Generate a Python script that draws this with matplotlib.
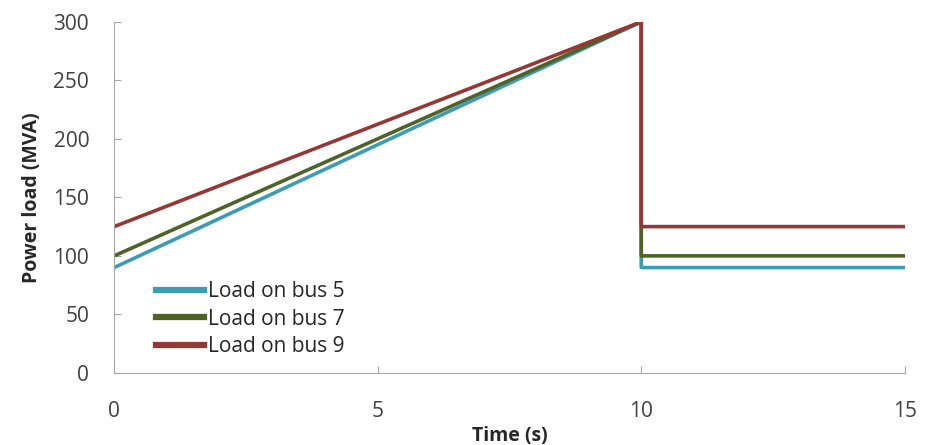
import matplotlib.pyplot as plt

time = [0, 10, 10, 15]
bus5 = [90, 300, 90, 90]
bus7 = [100, 300, 100, 100]
bus9 = [125, 300, 125, 125]

plt.rcParams['font.family'] = ['Open Sans', 'DejaVu Sans']

fig = plt.figure(figsize=(9.28, 4.45), dpi=100)
ax = fig.add_axes([0.123, 0.162, 0.852, 0.789])

ax.plot(time, bus5, color='#3A9DB4', lw=2.6, label='Load on bus 5')
ax.plot(time, bus7, color='#4F6228', lw=2.6, label='Load on bus 7')
ax.plot(time, bus9, color='#953735', lw=2.6, label='Load on bus 9')

ax.set_xlim(0, 15)
ax.set_ylim(0, 300)
ax.set_xticks([0, 5, 10, 15])
ax.set_yticks(range(0, 301, 50))
ax.tick_params(direction='in', length=5, color='#A6A6A6', labelsize=15,
               labelcolor='#404040')
ax.tick_params(axis='x', pad=20)
ax.tick_params(axis='y', pad=18)
for s in ['top', 'right']:
    ax.spines[s].set_visible(False)
for s in ['left', 'bottom']:
    ax.spines[s].set_color('#A6A6A6')

ax.set_xlabel('Time (s)', fontsize=14, fontweight='bold', color='#262626', labelpad=3)
ax.set_ylabel('Power load (MVA)', fontsize=14, fontweight='bold', color='#262626', labelpad=8)

leg = ax.legend(loc='lower left', bbox_to_anchor=(0.043, 0.022), frameon=False,
                fontsize=15, handlelength=2.3, handletextpad=0.15, labelspacing=0.3,
                borderaxespad=0)
for h in leg.get_lines():
    h.set_linewidth(4.5)
for t in leg.get_texts():
    t.set_color('#262626')

fig.savefig('out.png', dpi=100)
